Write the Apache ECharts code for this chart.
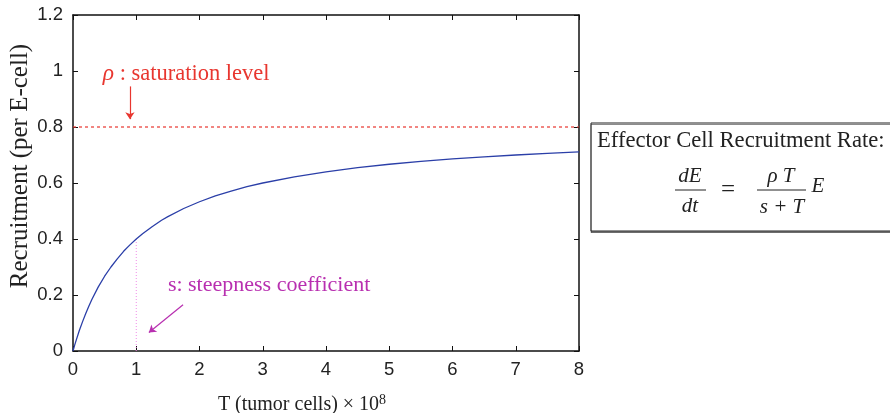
<!DOCTYPE html>
<html>
<head>
<meta charset="utf-8">
<script src="https://cdn.jsdelivr.net/npm/echarts@6/dist/echarts.min.js"></script>
<style>
  html, body { margin: 0; padding: 0; background: #fff; }
  #chart { width: 890px; height: 413px; }
</style>
</head>
<body>
<div id="chart"></div>
<script>
// Recruitment curve: tumor cells T (x 10^8) vs recruitment per effector cell
const tumorCells = [0, 0.025, 0.05, 0.1, 0.15, 0.2, 0.25, 0.3, 0.4, 0.5, 0.6, 0.7, 0.8, 0.9, 1, 1.1, 1.25, 1.4, 1.5, 1.75, 2, 2.25, 2.5, 2.75, 3, 3.5, 4, 4.5, 5, 5.5, 6, 6.5, 7, 7.5, 8];
const recruitment = [0, 0.020, 0.038, 0.073, 0.104, 0.133, 0.160, 0.185, 0.229, 0.267, 0.300, 0.329, 0.356, 0.379, 0.400, 0.419, 0.444, 0.467, 0.480, 0.509, 0.533, 0.554, 0.571, 0.587, 0.600, 0.622, 0.640, 0.655, 0.667, 0.677, 0.686, 0.693, 0.700, 0.706, 0.711];

const saturationLevel = 0.8;     // rho
const steepness = 1;             // s
const halfRecruitment = 0.4;     // value of the curve at T = s

const xTicks = [0, 1, 2, 3, 4, 5, 6, 7, 8];
const yTicks = [0, 0.2, 0.4, 0.6, 0.8, 1, 1.2];

const serif = '"Liberation Serif", "DejaVu Serif", serif';
const sans = '"Liberation Sans", Arial, sans-serif';

const chart = echarts.init(document.getElementById('chart'));

const axisCommon = {
  axisLine: { show: true, onZero: false, lineStyle: { color: '#111', width: 1.5 } },
  axisTick: { show: true, inside: true, length: 5, lineStyle: { color: '#111', width: 1 } },
  splitLine: { show: false }
};

const option = {
  animation: false,
  backgroundColor: '#fff',
  grid: { left: 73, right: 311, top: 15, bottom: 62, containLabel: false, outerBoundsMode: 'none' },
  xAxis: [
    Object.assign({
      type: 'value', min: 0, max: 8, interval: 1,
      name: 'T (tumor cells) × 10{sup|8}',
      nameLocation: 'middle', nameGap: 42,
      nameTextStyle: {
        fontFamily: serif, fontSize: 20, color: '#222', padding: [0, 48, 0, 0],
        rich: { sup: { fontFamily: serif, fontSize: 14, color: '#222', verticalAlign: 'top', padding: [0, 0, 10, 0] } }
      },
      axisLabel: { fontFamily: sans, fontSize: 18.5, color: '#222', margin: 9,
        formatter: v => xTicks.includes(v) ? String(v) : '' }
    }, axisCommon),
    Object.assign({
      type: 'value', min: 0, max: 8, interval: 1, position: 'top',
      axisLabel: { show: false }
    }, axisCommon)
  ],
  yAxis: [
    Object.assign({
      type: 'value', min: 0, max: 1.2, interval: 0.2,
      axisLabel: { fontFamily: sans, fontSize: 18.5, color: '#222', margin: 10,
        formatter: v => {
          const t = yTicks.find(y => Math.abs(y - v) < 1e-9);
          return t === undefined ? '' : String(t);
        } }
    }, axisCommon),
    Object.assign({
      type: 'value', min: 0, max: 1.2, interval: 0.2, position: 'right',
      axisLabel: { show: false }
    }, axisCommon)
  ],
  series: [
    {
      name: 'saturation',
      type: 'line',
      data: [[0, saturationLevel], [8, saturationLevel]],
      symbol: 'none',
      itemStyle: { color: '#e8362f' },
      lineStyle: { color: '#e8362f', width: 1.2, type: [3, 3] },
      z: 2
    },
    {
      name: 'steepness',
      type: 'line',
      data: [[steepness, 0], [steepness, halfRecruitment]],
      symbol: 'none',
      itemStyle: { color: '#f08ce8' },
      lineStyle: { color: '#f08ce8', width: 1, type: [1, 2] },
      z: 2
    },
    {
      name: 'recruitment',
      type: 'line',
      data: tumorCells.map((t, i) => [t, recruitment[i]]),
      symbol: 'none',
      smooth: false,
      itemStyle: { color: '#2b3fa8' },
      lineStyle: { color: '#2b3fa8', width: 1.3 },
      z: 3
    },
    {
      name: 'arrows',
      type: 'lines',
      coordinateSystem: 'cartesian2d',
      symbol: ['none', 'arrow'],
      symbolSize: 7,
      data: [
        { coords: [[0.9, 0.945], [0.9, 0.828]], lineStyle: { color: '#e8362f', width: 1.2, opacity: 1 } },
        { coords: [[1.74, 0.165], [1.2, 0.066]], lineStyle: { color: '#b82fb0', width: 1.2, opacity: 1 } }
      ],
      z: 4
    }
  ]
};
chart.setOption(option);

// Annotation texts, y-axis title and the formula box
const rhoPos = chart.convertToPixel({ xAxisIndex: 0, yAxisIndex: 0 }, [0.47, 0.99]);
const sPos = chart.convertToPixel({ xAxisIndex: 0, yAxisIndex: 0 }, [1.5, 0.235]);

const fracFont = 'italic 21px ' + serif;
chart.setOption({
  graphic: [
    {
      type: 'text', x: 20, y: 166, rotation: Math.PI / 2, z: 10,
      style: { text: 'Recruitment (per E-cell)', fill: '#222', fontFamily: serif, fontSize: 25,
        align: 'center', verticalAlign: 'middle' }
    },
    {
      type: 'text', x: rhoPos[0], y: rhoPos[1], z: 10,
      style: {
        text: '{g|ρ} : saturation level',
        fill: '#e8362f', fontFamily: serif, fontSize: 22.5, verticalAlign: 'middle',
        rich: { g: { fontFamily: serif, fontStyle: 'italic', fontSize: 23.5, fill: '#e8362f' } }
      }
    },
    {
      type: 'text', x: sPos[0], y: sPos[1], z: 10,
      style: { text: 's: steepness coefficient', fill: '#b82fb0', fontFamily: serif, fontSize: 22, verticalAlign: 'middle' }
    },
    {
      type: 'rect', z: 9,
      shape: { x: 591, y: 123, width: 400, height: 108 },
      style: { fill: '#fff', stroke: '#222', lineWidth: 1, shadowColor: 'rgba(0,0,0,0.45)', shadowOffsetY: 1.5, shadowBlur: 0 }
    },
    {
      type: 'text', x: 597, y: 141, z: 10,
      style: { text: 'Effector Cell Recruitment Rate:', fill: '#222', fontFamily: serif, fontSize: 22.6, verticalAlign: 'middle' }
    },
    // dE / dt
    { type: 'text', x: 690, y: 176, z: 10, style: { text: 'dE', fill: '#222', font: fracFont, align: 'center', verticalAlign: 'middle' } },
    { type: 'line', z: 10, shape: { x1: 675, y1: 190, x2: 706, y2: 190 }, style: { stroke: '#222', lineWidth: 1 } },
    { type: 'text', x: 690, y: 206, z: 10, style: { text: 'dt', fill: '#222', font: fracFont, align: 'center', verticalAlign: 'middle' } },
    { type: 'text', x: 728, y: 190, z: 10, style: { text: '=', fill: '#222', font: '25px ' + serif, align: 'center', verticalAlign: 'middle' } },
    // rho T / (s + T)
    { type: 'text', x: 781, y: 176, z: 10, style: { text: 'ρ T', fill: '#222', font: fracFont, align: 'center', verticalAlign: 'middle' } },
    { type: 'line', z: 10, shape: { x1: 757, y1: 190, x2: 806, y2: 190 }, style: { stroke: '#222', lineWidth: 1 } },
    { type: 'text', x: 782, y: 207, z: 10, style: { text: 's + T', fill: '#222', font: fracFont, align: 'center', verticalAlign: 'middle' } },
    { type: 'text', x: 818, y: 186, z: 10, style: { text: 'E', fill: '#222', font: fracFont, align: 'center', verticalAlign: 'middle' } }
  ]
});
</script>
</body>
</html>
